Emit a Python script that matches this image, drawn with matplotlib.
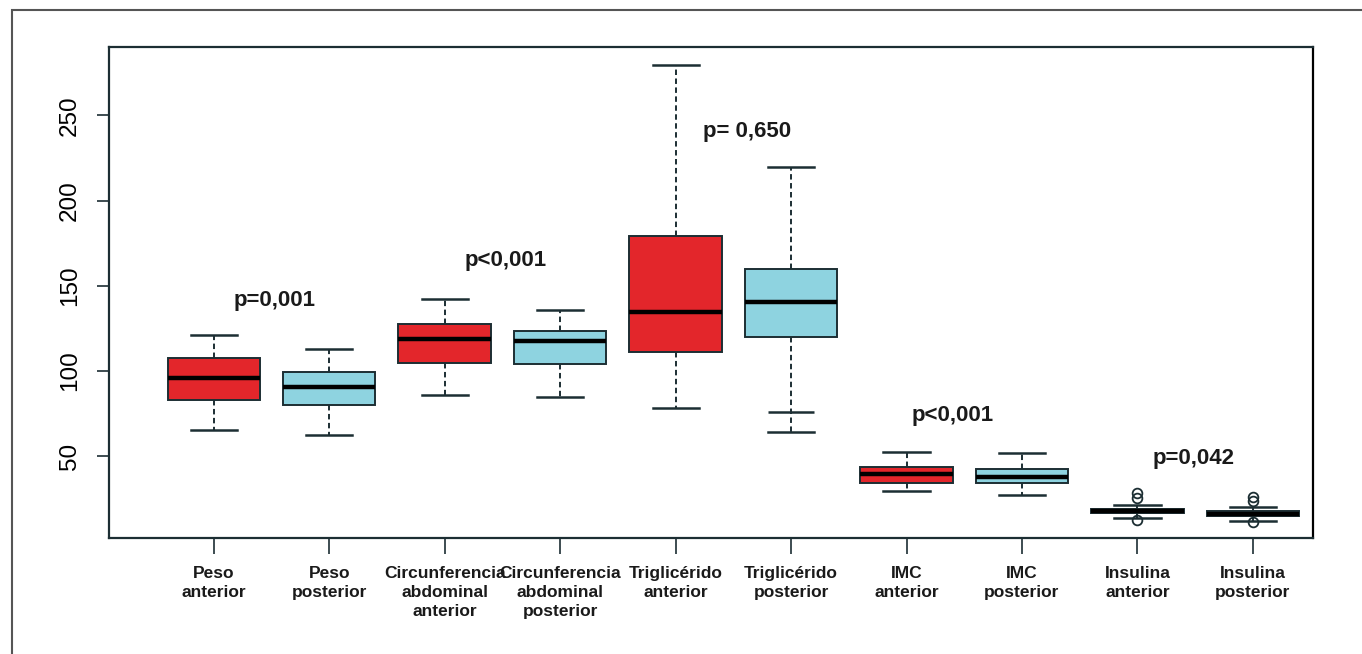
import matplotlib
matplotlib.use("Agg")
import matplotlib.pyplot as plt
from matplotlib.patches import Rectangle

# Data
labels = ["Peso\nanterior", "Peso\nposterior",
          "Circunferencia\nabdominal\nanterior", "Circunferencia\nabdominal\nposterior",
          "Triglicérido\nanterior", "Triglicérido\nposterior",
          "IMC\nanterior", "IMC\nposterior",
          "Insulina\nanterior", "Insulina\nposterior"]
whis_lo = [65.1, 62.3, 85.8, 84.4, 78.0, 64.3, 29.5, 27.1, 13.6, 11.9]
q1 = [82.9, 79.9, 104.8, 103.8, 110.9, 120.0, 34.3, 34.0, 16.4, 14.6]
medians = [96.0, 90.7, 118.7, 117.5, 134.5, 140.2, 39.4, 37.9, 17.8, 16.0]
q3 = [107.3, 99.5, 127.3, 123.5, 179.1, 160.1, 43.7, 42.4, 19.2, 17.6]
whis_hi = [121.0, 112.8, 142.0, 135.7, 279.5, 220.0, 52.5, 51.6, 21.2, 20.1]
outliers = [[], [], [], [], [], [], [], [], [28.2, 25.6, 12.3], [26.0, 23.8, 11.3]]
extra_caps = {6: 75.6}  # second staple drawn on the lower whisker of box 6

p_texts = ["p=0,001", "p<0,001", "p= 0,650", "p<0,001", "p=0,042"]
p_x = [1.53, 3.53, 5.62, 7.40, 9.49]
p_y = [141.5, 165.0, 240.3, 74.0, 48.6]

red = "#e3262b"
blue = "#8ed3e0"
dark = "#1c2e33"

plt.rcParams['font.family'] = ['Liberation Sans', 'DejaVu Sans']

fig = plt.figure(figsize=(13.62, 6.54), dpi=100)
ax = fig.add_axes([0.0803, 0.1774, 0.8837, 0.7507])

stats = []
for i in range(len(labels)):
    stats.append({"med": medians[i], "q1": q1[i], "q3": q3[i],
                  "whislo": whis_lo[i], "whishi": whis_hi[i],
                  "fliers": outliers[i], "label": labels[i]})

positions = list(range(1, len(labels) + 1))
bp = ax.bxp(stats, positions=positions, widths=0.8, patch_artist=True,
            showfliers=True, manage_ticks=False,
            boxprops=dict(linewidth=1.4, edgecolor=dark),
            whiskerprops=dict(linewidth=1.4, color=dark, linestyle=(0, (2.8, 1.8))),
            capprops=dict(linewidth=1.8, color=dark),
            capwidths=0.4,
            medianprops=dict(linewidth=3.2, color="black", solid_capstyle="butt"),
            flierprops=dict(marker="o", markersize=7, markerfacecolor="none",
                            markeredgecolor=dark, markeredgewidth=1.3))

for i, box in enumerate(bp["boxes"]):
    box.set_facecolor(red if i % 2 == 0 else blue)

for pos, val in extra_caps.items():
    ax.hlines(val, pos - 0.2, pos + 0.2, colors=dark, linewidth=1.8)

for txt, x, y in zip(p_texts, p_x, p_y):
    ax.text(x, y, txt, ha="center", va="center", fontsize=16, fontweight="bold",
            color="#1a1a1a")

ax.set_xlim(0.096, 10.52)
ax.set_ylim(1.9, 290.2)

ax.set_yticks([50, 100, 150, 200, 250])
ax.set_yticklabels(["50", "100", "150", "200", "250"], rotation=90, va="center",
                   fontsize=17.5)
ax.tick_params(axis="y", length=8.6, width=1.2, pad=12, color=dark)

ax.set_xticks(positions)
ax.set_xticklabels(labels, fontsize=12.5, fontweight="bold", linespacing=1.33,
                   color="#1a1a1a")
ax.tick_params(axis="x", length=11.5, width=1.2, pad=9, color=dark)

for side in ax.spines.values():
    side.set_linewidth(1.6)
    side.set_color(dark)
ax.spines["right"].set_color("black")

# outer frame of the figure panel
fig.patches.append(Rectangle((12 / 1362, -0.1), 1.2, 1 - 10 / 654 + 0.1,
                             transform=fig.transFigure, fill=False,
                             edgecolor="#555555", linewidth=1.5))

fig.savefig("out.png", dpi=100)
